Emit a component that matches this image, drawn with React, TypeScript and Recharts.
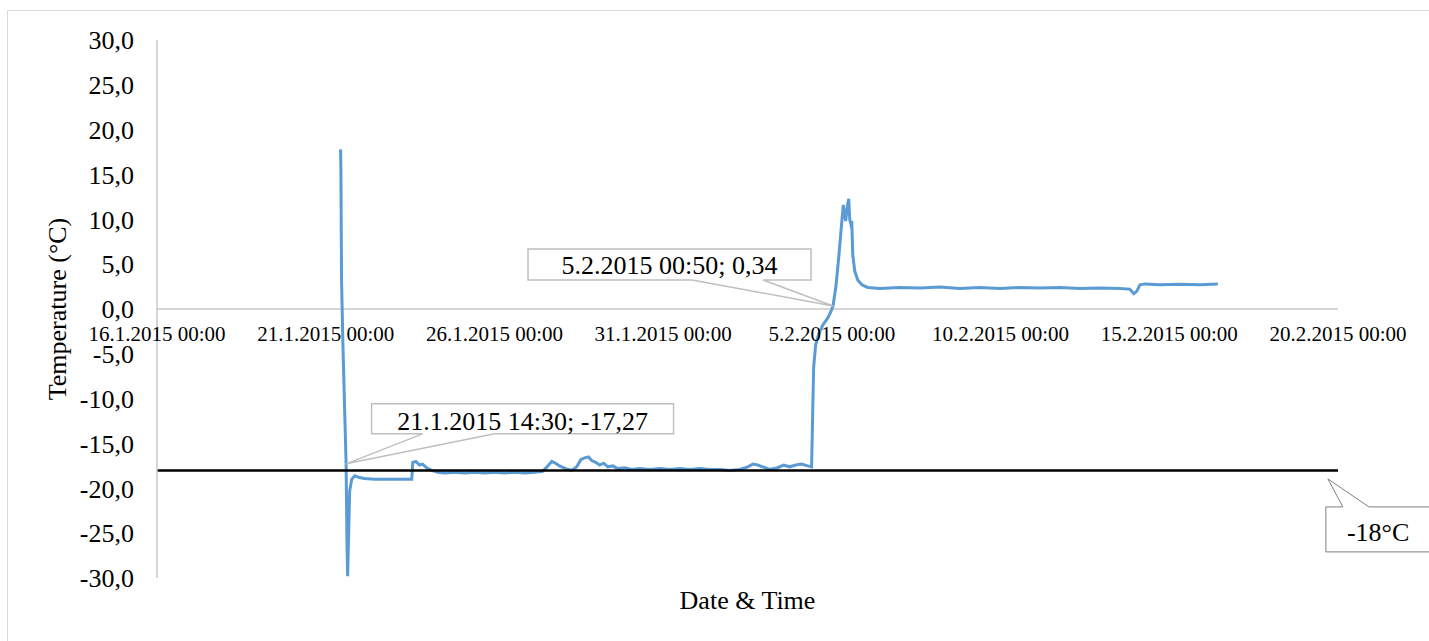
import { LineChart, Line, XAxis, YAxis, ReferenceLine, ReferenceDot } from "recharts";

const FONT = '"Liberation Serif", "Times New Roman", serif';

// days since 16.1.2015 00:00
const days = [
  5.44, 5.45, 5.47, 5.51, 5.604, 5.63, 5.65, 5.68, 5.71, 5.77, 5.86, 6.0, 6.15, 6.45, 6.89, 7.55,
  7.58, 7.67, 7.78, 7.87, 7.99, 8.14, 8.32, 8.53, 8.82, 9.12, 9.41, 9.71, 10.01, 10.3, 10.6, 10.9,
  11.19, 11.43, 11.58, 11.7, 11.81, 11.93, 12.11, 12.29, 12.44, 12.56, 12.67, 12.79, 12.88, 13.0,
  13.12, 13.24, 13.36, 13.51, 13.65, 13.86, 14.07, 14.31, 14.6, 14.9, 15.2, 15.49, 15.79, 16.08,
  16.38, 16.68, 16.97, 17.27, 17.51, 17.66, 17.8, 17.95, 18.16, 18.39, 18.57, 18.75, 18.93, 19.1,
  19.28, 19.4, 19.43, 19.46, 19.52, 19.61, 19.73, 19.88, 19.97, 20.035, 20.12, 20.21, 20.3, 20.34,
  20.38, 20.41, 20.46, 20.5, 20.53, 20.56, 20.59, 20.62, 20.68, 20.77, 20.89, 21.06, 21.42, 22.01,
  22.61, 23.2, 23.79, 24.38, 24.98, 25.57, 26.16, 26.76, 27.35, 27.94, 28.53, 28.83, 28.95, 29.04,
  29.13, 29.28, 29.72, 30.32, 30.91, 31.44,
];
const temps = [
  17.8, 15.6, 3.0, -4.0, -17.27, -26.0, -29.8, -25.0, -20.3, -19.0, -18.6, -18.8, -18.9, -19.0, -19.0, -19.0,
  -17.1, -17.0, -17.4, -17.3, -17.7, -18.0, -18.2, -18.3, -18.2, -18.3, -18.2, -18.3, -18.2, -18.3, -18.2, -18.3,
  -18.2, -18.1, -17.5, -17.0, -17.2, -17.5, -17.8, -18.0, -17.6, -16.8, -16.6, -16.5, -16.9, -17.1,
  -17.4, -17.2, -17.6, -17.5, -17.8, -17.7, -17.9, -17.8, -17.9, -17.8, -17.9, -17.8, -17.9, -17.8,
  -17.9, -17.9, -18.0, -17.9, -17.6, -17.3, -17.4, -17.6, -17.9, -17.7, -17.4, -17.6, -17.4, -17.3,
  -17.5, -17.6, -12.0, -6.5, -4.0, -2.8, -1.8, -1.0, -0.3, 0.34, 2.5, 6.0, 10.0, 11.6,
  10.5, 9.8, 11.5, 12.3, 10.0, 9.5, 9.8, 6.0, 4.2, 3.2, 2.7, 2.4, 2.3, 2.4,
  2.35, 2.45, 2.3, 2.4, 2.3, 2.4, 2.35, 2.4, 2.3, 2.35, 2.3, 2.2, 1.7, 2.0,
  2.7, 2.8, 2.7, 2.75, 2.7, 2.8,
];

const xTicks = [0, 5, 10, 15, 20, 25, 30, 35];
const yTicks = [-30, -25, -20, -15, -10, -5, 0, 5, 10, 15, 20, 25, 30];

const limitTemp = -18;
const limitLabel = "-18°C";
const limitLabelDay = 34.7;

const markDays = [5.604, 20.035];
const markTemps = [-17.27, 0.34];
const markLabels = ["21.1.2015 14:30; -17,27", "5.2.2015 00:50; 0,34"];

const data = days.map((d, i) => ({ day: d, temp: temps[i] }));

const fmtDate = (d: number) => {
  const t = new Date(Date.UTC(2015, 0, 16) + d * 86400000);
  return `${t.getUTCDate()}.${t.getUTCMonth() + 1}.${t.getUTCFullYear()} 00:00`;
};
const fmtTemp = (v: number) => v.toFixed(1).replace(".", ",");

// x labels sit under the zero line, not at the bottom of the plot
const DateTick = (p: any) => (
  <text x={p.x} y={p.y} dy={-237} textAnchor="middle" fontSize={21} fontFamily={FONT} fill="#000">
    {fmtDate(p.payload.value)}
  </text>
);

// callout with the pointer under the box
const lowCallout = (text: string, x0: number, x1: number, y0: number, y1: number, b0: number, b1: number, ty: number) =>
  (p: any) => {
    const { cx, cy } = p;
    const d = `M${cx + x0},${cy + y0} H${cx + x1} V${cy + y1} H${cx + b1} L${cx},${cy} L${cx + b0},${cy + y1} H${cx + x0} Z`;
    return (
      <g>
        <path d={d} fill="#fff" stroke="#bfbfbf" strokeWidth={1.5} />
        <text x={cx + (x0 + x1) / 2} y={cy + ty} textAnchor="middle" fontSize={26} fontFamily={FONT} fill="#000">
          {text}
        </text>
      </g>
    );
  };

const LimitCallout = (p: any) => {
  const { cx, cy } = p;
  const d = `M${cx - 2},${cy + 36.5} H${cx + 15} L${cx},${cy + 8.5} L${cx + 41},${cy + 36.5} H${cx + 150} V${cy + 81.5} H${cx - 2} Z`;
  return (
    <g>
      <path d={d} fill="#fff" stroke="#7f7f7f" strokeWidth={1} />
      <text x={cx + 19} y={cy + 71} fontSize={26} fontFamily={FONT} fill="#000">
        {limitLabel}
      </text>
    </g>
  );
};

const markShapes = [
  lowCallout(markLabels[0], 25.5, 327.5, -60, -30, 76.5, 148.5, -34),
  lowCallout(markLabels[1], -305, -22, -57, -26, -141, -70, -32),
];

export default function App() {
  return (
    <div style={{ position: "absolute", left: 0, top: 0, width: 1429, height: 641, overflow: "hidden", background: "#fff" }}>
      <div
        style={{
          position: "absolute",
          left: 7,
          top: 10,
          width: 1430,
          height: 640,
          borderLeft: "1.5px solid #d9d9d9",
          borderTop: "1.5px solid #d9d9d9",
        }}
      />
      <div style={{ position: "absolute", left: 0, top: 0 }}>
        <LineChart width={1429} height={641} data={data} margin={{ top: 40, right: 91, bottom: 0, left: 0 }}>
          <XAxis
            dataKey="day"
            type="number"
            domain={[0, 35]}
            ticks={xTicks}
            height={63}
            axisLine={false}
            tickLine={false}
            tickSize={0}
            tickMargin={0}
            tick={DateTick}
            label={{ value: "Date & Time", position: "insideTop", offset: 13, fontSize: 26, fontFamily: FONT, fill: "#000" }}
          />
          <YAxis
            type="number"
            domain={[-30, 30]}
            ticks={yTicks}
            width={157}
            tickFormatter={fmtTemp}
            tickLine={false}
            tickSize={0}
            tickMargin={23}
            axisLine={{ stroke: "#c8c8c8", strokeWidth: 1.5 }}
            tick={{ fontSize: 26, fontFamily: FONT, fill: "#000" }}
            label={{
              value: "Temperature (°C)",
              angle: -90,
              position: "insideLeft",
              offset: 57,
              fontSize: 26,
              fontFamily: FONT,
              fill: "#000",
              style: { textAnchor: "middle" },
            }}
          />
          <ReferenceLine y={0} stroke="#c8c8c8" strokeWidth={1.5} />
          <Line
            type="linear"
            dataKey="temp"
            stroke="#5b9bd5"
            strokeWidth={3}
            dot={false}
            isAnimationActive={false}
          />
          <ReferenceLine y={limitTemp} stroke="#000" strokeWidth={2.5} />
          {markDays.map((d, i) => (
            <ReferenceDot key={i} x={d} y={markTemps[i]} r={1} shape={markShapes[i]} />
          ))}
          <ReferenceDot x={limitLabelDay} y={limitTemp} r={1} shape={LimitCallout} ifOverflow="visible" />
        </LineChart>
      </div>
    </div>
  );
}
